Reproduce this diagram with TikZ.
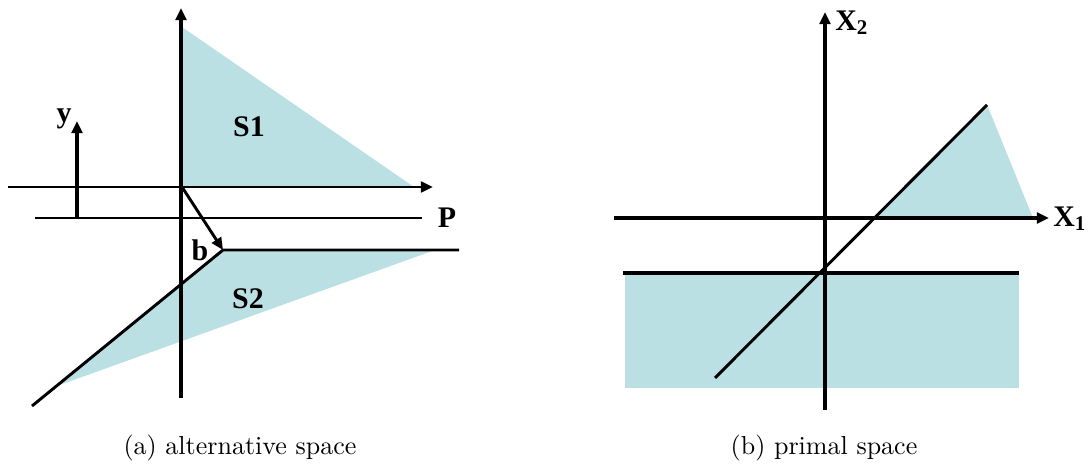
\documentclass[tikz,border=0pt]{standalone}
\usepackage{fontspec}
\newfontfamily\tms{Liberation Serif}
\usetikzlibrary{arrows.meta}
\definecolor{regionfill}{RGB}{187,224,227}
\tikzset{
  thickax/.style={line width=1.65pt},
  medline/.style={line width=1.2pt},
  arr/.style={-{Triangle[length=5pt,width=4.4pt]}},
  region/.style={fill=regionfill, draw=none},
  lbl/.style={font=\tms\bfseries\fontsize{12.3}{14}\selectfont, inner sep=0pt},
  captext/.style={font=\fontsize{10.7}{13}\selectfont, inner sep=0pt}
}
\begin{document}
\begin{tikzpicture}[x=0.4114pt,y=-0.4114pt]
\useasboundingbox (0,0) rectangle (1089,466);
% ---------- (a) alternative space ----------
\coordinate (s1top) at (182,27);
\coordinate (o) at (182,187);
\coordinate (s1r) at (414,187);
\coordinate (bp) at (223,250);
\coordinate (s2r) at (435,250);
\coordinate (s2l) at (57,386);
\fill[region] (s1top) -- (o) -- (s1r) -- cycle;
\fill[region] (bp) -- (s2r) -- (s2l) -- cycle;
% vertical axis
\coordinate (vbot) at (181,398);
\coordinate (vtop) at (181,8);
\draw[thickax,arr] (vbot) -- (vtop);
% horizontal arrow line
\coordinate (hl) at (8,187);
\coordinate (hr) at (433,187);
\draw[medline,arr] (hl) -- (hr);
% P line
\coordinate (pl) at (35,218);
\coordinate (pr) at (422,218);
\draw[medline] (pl) -- (pr);
\node[lbl] (P) at (447,218) {P};
% y arrow
\coordinate (yb) at (77,218);
\coordinate (yt) at (77,121);
\draw[thickax,arr] (yb) -- (yt);
\node[lbl] (ylab) at (64,119) {y};
% b arrow
\draw[medline,arr] (o) -- (bp);
\node[lbl] (blab) at (200,250) {b};
% S2 boundary
\coordinate (s2far) at (459,250);
\coordinate (s2ll) at (32,406);
\draw[medline] (s2far) -- (bp) -- (s2ll);
\node[lbl] (S1) at (249,127) {S1};
\node[lbl] (S2) at (248,299) {S2};
\node[captext] (capa) at (240,448) {(a) alternative space};
% ---------- (b) primal space ----------
\coordinate (t1) at (874,218);
\coordinate (t2) at (988,107);
\coordinate (t3) at (1033,218);
\fill[region] (t1) -- (t2) -- (t3) -- cycle;
\fill[region] (625,273) rectangle (1019,388);
\coordinate (x2b) at (825,410);
\coordinate (x2t) at (825,12);
\draw[thickax,arr] (x2b) -- (x2t);
\node[lbl] (X2) at (852,23) {X\textsubscript{2}};
\coordinate (x1l) at (614,218);
\coordinate (x1r) at (1049,218);
\draw[thickax,arr] (x1l) -- (x1r);
\node[lbl] (X1) at (1070,219) {X\textsubscript{1}};
\coordinate (dl) at (715,378);
\coordinate (dr) at (987,105);
\draw[medline] (dl) -- (dr);
\coordinate (ll) at (623,273);
\coordinate (lr) at (1019,273);
\draw[thickax] (ll) -- (lr);
\node[captext] (capb) at (824,448) {(b) primal space};
\end{tikzpicture}
\end{document}
